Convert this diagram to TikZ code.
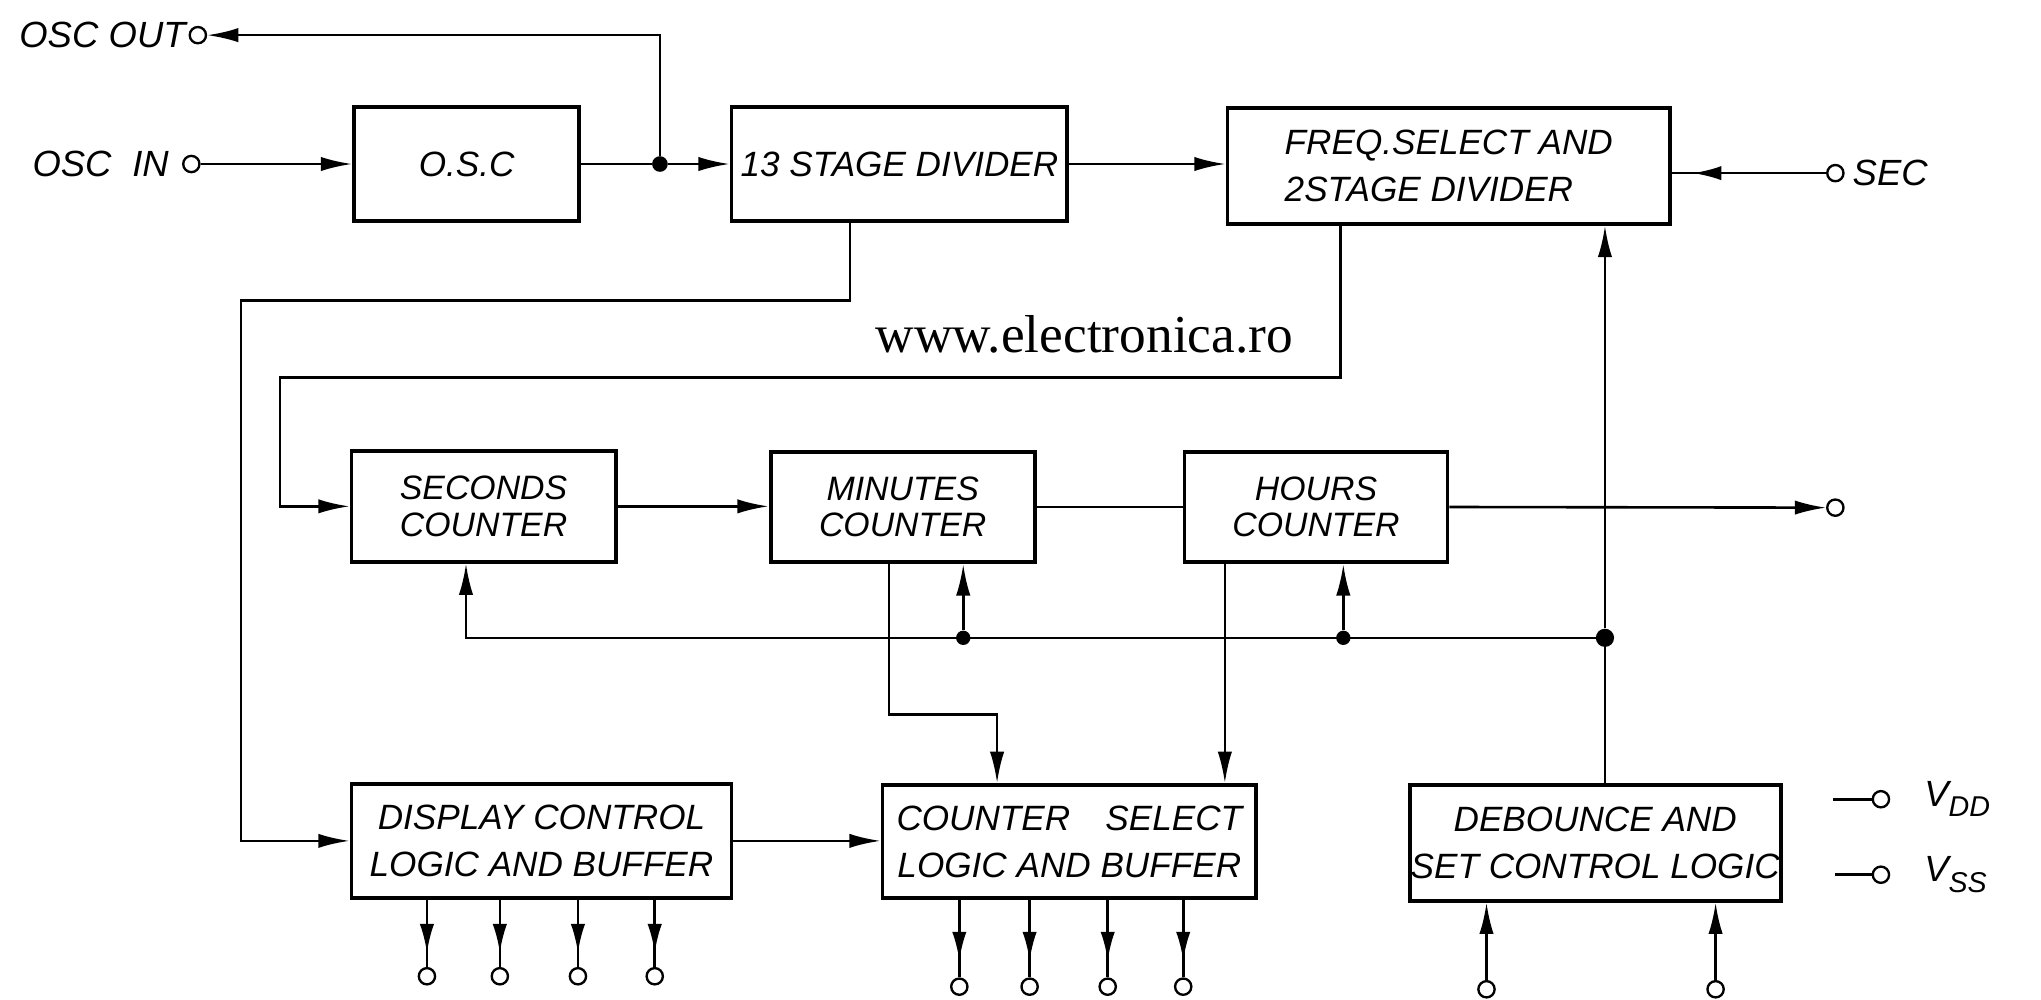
\documentclass[tikz,border=0pt]{standalone}
\usepackage{fontspec}
\setmainfont{Liberation Sans}
\newfontfamily\wmfont{Liberation Serif}
\usetikzlibrary{arrows.meta,decorations.markings,calc}
\begin{document}
\begin{tikzpicture}[x=1pt,y=-1pt,
  blk/.style={draw,line width=3pt,inner sep=0pt,align=center,font=\fontsize{27}{36}\selectfont\itshape},
  cnt/.style={font=\fontsize{26}{28}\selectfont\itshape},
  conn/.style={line width=2pt},
  tipA/.style={-{Latex[length=24pt,width=11pt]}},
  midarr/.style={postaction={decorate,decoration={markings,mark=at position #1 with {\arrow{Latex[length=22pt,width=11pt]}}}}},
  term/.style={circle,draw,line width=1.8pt,minimum size=12.5pt,inner sep=0pt,fill=white},
  jdot/.style={circle,fill=black,minimum size=#1,inner sep=0pt},
  lab/.style={font=\fontsize{28}{30}\selectfont\itshape,inner sep=0pt}
]
\fill[white] (0,0) rectangle (1568,768);
\useasboundingbox (0,0) rectangle (1568,768);

% blocks
\node[blk,minimum width=173pt,minimum height=87pt] (osc) at (358.5,126) {O.S.C};
\node[blk,minimum width=258pt,minimum height=88pt] (div) at (691,126) {13 STAGE DIVIDER};
\node[blk,minimum width=340pt,minimum height=89pt,align=left] (freq) at (1113,127.5) {FREQ.SELECT AND\hspace{20pt}\\2STAGE DIVIDER};
\node[blk,cnt,minimum width=203pt,minimum height=85pt] (sec) at (371.5,389) {SECONDS\\COUNTER};
\node[blk,cnt,minimum width=203pt,minimum height=85pt] (min) at (693.5,389.5) {MINUTES\\COUNTER};
\node[blk,cnt,minimum width=202pt,minimum height=85pt] (hrs) at (1011,389.5) {HOURS\\COUNTER};
\node[blk,minimum width=292pt,minimum height=88pt] (disp) at (416,646) {DISPLAY CONTROL\\LOGIC AND BUFFER};
\node[blk,minimum width=287pt,minimum height=87pt] (csel) at (821.5,646.5) {COUNTER\quad SELECT\\LOGIC AND BUFFER};
\node[blk,minimum width=285pt,minimum height=89pt] (deb) at (1225.5,647.5) {DEBOUNCE AND\\SET CONTROL LOGIC};

% terminals
\node[term] (oscout) at (152,27) {};
\node[term] (oscin) at (147,126) {};
\node[term] (secout) at (1410,133) {};
\node[term] (hrsout) at (1410,390) {};
\node[term] (vdd) at (1445,614) {};
\node[term] (vss) at (1445,672) {};
\coordinate (vddl) at (1408,614);
\coordinate (vssl) at (1410,672);
\node[term] (d1) at (328,750) {};
\node[term] (d2) at (384,750) {};
\node[term] (d3) at (444,750) {};
\node[term] (d4) at (503,750) {};
\node[term] (c1) at (737,758) {};
\node[term] (c2) at (791,758) {};
\node[term] (c3) at (851,758) {};
\node[term] (c4) at (909,758) {};
\node[term] (e1) at (1142,760) {};
\node[term] (e2) at (1318,760) {};

% labels
\node[lab,anchor=east] (loscout) at ([xshift=-2pt]oscout.west) {OSC\hspace{8pt}OUT};
\node[lab,anchor=east] (loscin) at ([xshift=-10pt]oscin.west) {OSC\hspace{16pt}IN};
\node[lab,anchor=west] (lsec) at ([xshift=6pt]secout.east) {SEC};
\node[lab,anchor=west] (lvdd) at ([xshift=26pt]vdd.east) {V\raisebox{-8pt}{\fontsize{22}{22}\selectfont\itshape DD}};
\node[lab,anchor=west] (lvss) at ([xshift=26pt]vss.east) {V\raisebox{-8pt}{\fontsize{22}{22}\selectfont\itshape SS}};
\node[font=\wmfont\fontsize{41}{45}\selectfont,inner sep=0pt] (wm) at (833,257) {www.electronica.ro};

% junctions and waypoints
\node[jdot=12pt] (j1) at (507,126) {};
\node[jdot=11pt] (jm) at (740,490) {};
\node[jdot=11pt] (jh) at (1032,490) {};
\node[jdot=14pt] (jb) at (1233,490) {};
\coordinate (w1) at (185,231);
\coordinate (w2) at (215,290);
\coordinate (w3) at (766,549);
\coordinate (s1) at ([xshift=-38pt]div.south);
\coordinate (s2) at ([xshift=-83pt]freq.south);
\coordinate (s3) at ([xshift=-13.5pt]sec.south);
\coordinate (s4) at ([xshift=-10.5pt]min.south);
\coordinate (s5) at ([xshift=-70pt]hrs.south);

% connectors
\draw[conn,tipA] (oscin) -- (oscin -| osc.west);
\draw[conn] (osc.east) -- (j1);
\draw[conn,tipA] (j1) -- (div.west);
\draw[conn,tipA] (j1) |- (oscout);
\draw[conn,tipA] (div.east) -- (div.east -| freq.west);
\draw[conn,midarr=-16pt] (secout) -- (secout -| freq.east);
\draw[conn,tipA] (s1) |- (w1) |- (disp.west);
\draw[conn,tipA] (s2) |- (w2) |- (sec.west);
\draw[conn,tipA] (sec.east) -- (sec.east -| min.west);
\draw[conn] (min.east) -- (min.east -| hrs.west);
\draw[conn,tipA] (hrs.east) -- (hrsout);
\draw[conn,tipA] (jb) -| (s3);
\draw[conn,tipA] (jm) -- (jm |- min.south);
\draw[conn,tipA] (jh) -- (jh |- hrs.south);
\draw[conn] (deb.north -| jb) -- (jb);
\draw[conn,tipA] (jb) -- (jb |- freq.south);
\draw[conn,tipA] (s4) |- (w3) -- (w3 |- csel.north);
\draw[conn,tipA] (s5) -- (s5 |- csel.north);
\draw[conn,tipA] (disp.east) -- (disp.east -| csel.west);
\foreach \t in {d1,d2,d3,d4} \draw[conn,midarr=-11pt] (\t |- disp.south) -- (\t);
\foreach \t in {c1,c2,c3,c4} \draw[conn,midarr=-13pt] (\t |- csel.south) -- (\t);
\foreach \t in {e1,e2} \draw[conn,tipA] (\t) -- (\t |- deb.south);
\draw[conn] (vddl) -- (vdd);
\draw[conn] (vssl) -- (vss);
\end{tikzpicture}
\end{document}
